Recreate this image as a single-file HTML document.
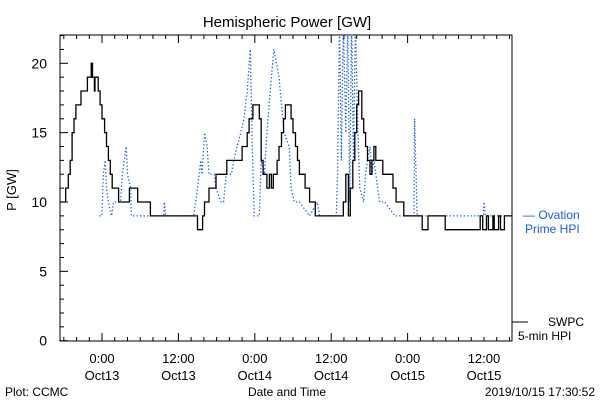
<!DOCTYPE html>
<html><head><meta charset="utf-8"><style>
body{margin:0;background:#fff;}
svg{display:block;font-family:"Liberation Sans",sans-serif;}
</style></head><body>
<svg id="c" width="600" height="400">
<text x="287" y="27" font-size="15" text-anchor="middle">Hemispheric Power [GW]</text>
<text x="16" y="190" font-size="13" text-anchor="middle" transform="rotate(-90 16 190)">P [GW]</text>
<text x="287" y="396" font-size="12" text-anchor="middle">Date and Time</text>
<text x="5" y="396" font-size="12">Plot: CCMC</text>
<text x="595" y="396" font-size="12" text-anchor="end">2019/10/15 17:30:52</text>
<text x="523" y="219" font-size="12" fill="#1a5ce6">— Ovation</text>
<text x="525" y="233" font-size="12" fill="#1a5ce6">Prime HPI</text>
<line x1="512" y1="322" x2="528" y2="322" stroke="#000"/>
<text x="548" y="326" font-size="12">SWPC</text>
<text x="518" y="340" font-size="12">5-min HPI</text>
<g id="g"></g>
</svg>
<script>
const yTicks=[0,5,10,15,20];
const xTickHours=[6.6,18.6,30.6,42.6,54.6,66.6];
const xTickTimes=["0:00","12:00","0:00","12:00","0:00","12:00"];
const xTickDays=["Oct13","Oct13","Oct14","Oct14","Oct15","Oct15"];
const swpcT=[0,0.6,0.9,1.3,1.6,1.9,2.2,2.5,3.3,4.3,4.9,5.1,5.4,5.5,5.8,6.0,6.3,6.6,7.0,7.3,7.6,7.9,8.2,9.2,10.7,10.9,12.0,12.2,12.6,14.2,21.5,21.6,22.1,22.4,22.7,23.4,24.2,24.5,25.9,26.2,28.1,28.6,29.4,29.7,30.3,31.0,31.3,31.6,31.9,32.5,32.9,33.2,33.5,34.1,34.4,34.8,35.1,35.4,36.0,36.3,36.6,37.0,37.3,37.6,38.5,39.2,39.8,40.1,44.4,44.5,44.9,45.2,45.3,45.6,46.0,46.3,46.6,46.9,47.4,47.7,48.0,48.3,48.7,49.0,49.3,49.6,50.2,50.7,51.8,52.3,52.8,53.4,54.0,56.6,56.9,57.5,57.8,59.7,60.5,65.7,66.0,66.4,67.0,67.3,68.0,68.2,68.9,69.2,69.8,71];
const swpcV=[10,10,11,12,13,15,16,17,18,19,20,19,18,19,19,18,17,16,15,14,13,12,11,10,10,11,11,10,10,9,9,8,8,9,10,11,11,12,12,13,13,14,15,16,17,17,16,13,12,11,12,11,12,13,14,15,16,17,17,16,15,14,13,12,11,10,10,9,9,10,12,12,9,11,13,15,17,18,16,15,14,13,12,13,14,13,13,12,12,11,10,10,9,9,8,8,9,9,8,8,9,8,9,8,9,8,9,8,9,9];
const ovT=[6.2,6.6,6.8,7.1,7.3,7.6,8.1,8.4,9.5,9.8,10.4,10.6,11.1,11.2,16.3,16.4,16.6,21.0,21.3,21.6,22.1,22.3,22.7,23.1,23.4,24.2,24.5,25.3,25.7,26.1,26.9,27.3,27.8,28.4,28.9,29.4,29.9,30.2,30.5,31.3,31.6,32.1,32.5,33.2,33.6,34.4,35.2,36.0,36.3,36.8,37.6,39.2,40.4,40.8,43.4,43.6,43.9,44.2,44.5,44.9,45.2,45.5,45.8,46.1,46.4,46.8,47.1,47.7,48.0,48.3,48.7,49.0,49.3,49.9,50.2,51.0,52.6,55.6,55.7,56.1,66.5,66.6,66.8,71];
const ovV=[9,9,12,13,11,10,9,10,10,12,14,12,11,9,9,10,9,9,10,11,13,12,15,14,12,12,11,10,10,12,12,13,14,15,16,18,21,14,9,9,13,12,15,19,21,19,15,14,11,10,10,9,10,9,9,12,23,13,23,15,23,10,23,13,23,15,11,10,12,13,14,12,13,11,10,10,9,9,16,9,9,10,9,9];

const NS="http://www.w3.org/2000/svg";
const g=document.getElementById('g');
const X0=60,X1=512,Y0=341,YT=35;
const xs=h=>X0+(h/71)*(X1-X0);
const ys=v=>340.7-v*13.87;
function mk(t,a,p){const e=document.createElementNS(NS,t);for(const k in a)e.setAttribute(k,a[k]);(p||g).appendChild(e);return e;}
const defs=mk('defs',{});
const cp=mk('clipPath',{id:'clip'},defs);
mk('rect',{x:X0,y:YT,width:X1-X0,height:Y0-YT},cp);
const frame=mk('rect',{x:X0,y:YT,width:X1-X0,height:Y0-YT,fill:'none',stroke:'#000'});


for(let v=0;v<=22;v++){
  const len=v%5===0?8:4;
  const t=mk('line',{x1:X0,y1:ys(v),x2:X0+len,y2:ys(v),stroke:'#000'});
  
  
}
yTicks.forEach(v=>{
  const t=mk('text',{x:X0-13,y:ys(v)+5,'font-size':14,'text-anchor':'end'});
  t.textContent=v;
  
  
});
for(let h=xTickHours[0]-6;h<=71;h+=2){
  if(h<0)continue;
  const maj=Math.abs(((h-6.6)%12+12)%12)<0.01;
  const len=maj?8:4;
  const a=mk('line',{x1:xs(h),y1:Y0,x2:xs(h),y2:Y0-len,stroke:'#000'});
  
  
  const b=mk('line',{x1:xs(h),y1:YT,x2:xs(h),y2:YT+len,stroke:'#000'});
  
  
}
xTickHours.forEach((h,i)=>{
  const t=mk('text',{x:xs(h),y:363,'font-size':13,'text-anchor':'middle'});
  t.textContent=xTickTimes[i];
  
  
  const d=mk('text',{x:xs(h),y:380,'font-size':13,'text-anchor':'middle'});
  d.textContent=xTickDays[i];
  
  
});
function pts(T,V){return T.map((t,i)=>xs(t).toFixed(1)+','+ys(V[i]).toFixed(1)).join(' ');}
function stepPts(T,V){const p=[];T.forEach((t,i)=>{if(i>0)p.push(xs(t).toFixed(1)+','+ys(V[i-1]).toFixed(1));p.push(xs(t).toFixed(1)+','+ys(V[i]).toFixed(1));});return p.join(' ');}
const ov=mk('polyline',{points:pts(ovT,ovV),fill:'none',stroke:'#1a5ce6','stroke-width':1.3,'stroke-dasharray':'1.3 2.2','clip-path':'url(#clip)'});


const sw=mk('polyline',{points:stepPts(swpcT,swpcV),fill:'none',stroke:'#000','stroke-width':1.3,'clip-path':'url(#clip)'});


</script>
</body></html>
